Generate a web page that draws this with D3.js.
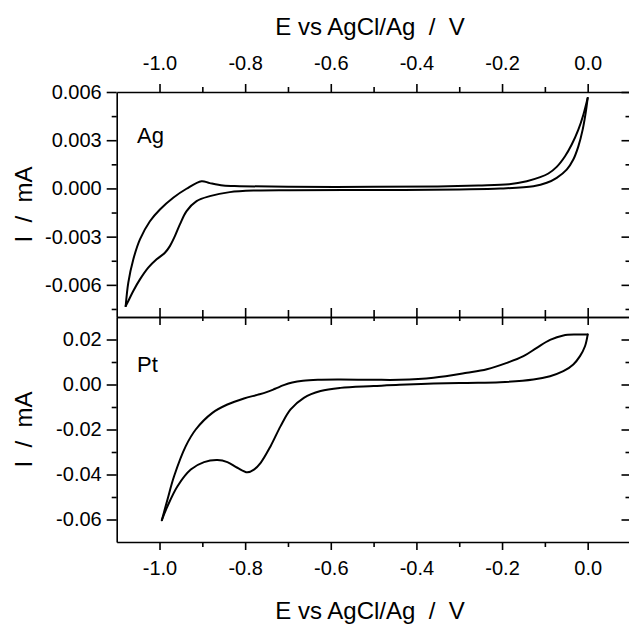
<!DOCTYPE html>
<html>
<head>
<meta charset="utf-8">
<script src="https://cdn.jsdelivr.net/npm/d3@7/dist/d3.min.js"></script>
<style>
  html, body { margin: 0; padding: 0; background: #fff; }
  svg { display: block; }
  text { font-family: "Liberation Sans", Arial, Helvetica, sans-serif; fill: #000; }
</style>
</head>
<body>
<svg id="chart" width="629" height="627"></svg>
<script>
// Cyclic voltammograms on Ag and Pt electrodes: potential (V vs AgCl/Ag) and current (mA)

// Potential axis ticks
const potentialMajor = [-1.0, -0.8, -0.6, -0.4, -0.2, 0.0];
const potentialMinor = [-0.9, -0.7, -0.5, -0.3, -0.1];

// Current axis ticks
const agCurrentMajor = [-0.006, -0.003, 0.000, 0.003, 0.006];
const agCurrentMinor = [-0.0075, -0.0045, -0.0015, 0.0015, 0.0045];
const ptCurrentMajor = [-0.06, -0.04, -0.02, 0.00, 0.02];
const ptCurrentMinor = [-0.05, -0.03, -0.01, 0.01];

// Ag electrode: sweep running along the upper edge of the loop  [E, I]
const agUpperSweep = [
  [-1.079, -0.00732], [-1.0729, -0.00586], [-1.0613, -0.00442], [-1.0457, -0.00317],
  [-1.0224, -0.00204], [-0.999, -0.00131], [-0.968, -0.00058], [-0.937, -0.00002],
  [-0.902, 0.00045], [-0.8825, 0.00033], [-0.8515, 0.00018], [-0.8126, 0.00014],
  [-0.696, 0.00010], [-0.5, 0.00010], [-0.35, 0.00012], [-0.2555, 0.00018],
  [-0.1833, 0.00026], [-0.1422, 0.00045], [-0.111, 0.00070], [-0.0918, 0.00093],
  [-0.0723, 0.00134], [-0.0529, 0.00200], [-0.0373, 0.00273], [-0.0218, 0.00366],
  [-0.0101, 0.00459], [0.0, 0.00563]
];
// Ag electrode: sweep running along the lower edge of the loop  [E, I]
const agLowerSweep = [
  [-1.079, -0.00732], [-1.0729, -0.00700], [-1.0613, -0.00638], [-1.0457, -0.00566],
  [-1.0263, -0.00493], [-1.0068, -0.00441], [-0.9874, -0.00400], [-0.9758, -0.00359],
  [-0.9641, -0.00297], [-0.9524, -0.00224], [-0.9368, -0.00141], [-0.9135, -0.00079],
  [-0.8825, -0.00048], [-0.8359, -0.00023], [-0.7737, -0.00013], [-0.696, -0.00011],
  [-0.5, -0.00010], [-0.3, -0.00006], [-0.2044, -0.00001], [-0.1268, 0.00014],
  [-0.0956, 0.00035], [-0.0723, 0.00066], [-0.049, 0.00117], [-0.0336, 0.00180],
  [-0.0218, 0.00262], [-0.0117, 0.00366], [-0.0047, 0.00470], [0.0, 0.00563]
];

// Pt electrode: upper edge of the loop  [E, I]
const ptUpperSweep = [
  [-0.9946, -0.0603], [-0.9814, -0.0511], [-0.966, -0.0408], [-0.9387, -0.0274],
  [-0.9154, -0.0200], [-0.8765, -0.0126], [-0.8415, -0.0089], [-0.8028, -0.0062],
  [-0.7716, -0.0046], [-0.75, -0.0034], [-0.73, -0.0019], [-0.71, -0.0003],
  [-0.69, 0.0009], [-0.665, 0.0017], [-0.63, 0.0021], [-0.5774, 0.0022],
  [-0.5, 0.0021], [-0.4396, 0.0021], [-0.36, 0.0030], [-0.282, 0.0052],
  [-0.2354, 0.0068], [-0.1888, 0.0096], [-0.15, 0.0126], [-0.1189, 0.0163],
  [-0.0879, 0.0198], [-0.0569, 0.0218], [-0.0256, 0.0222], [0.0, 0.0222]
];
// Pt electrode: lower edge of the loop  [E, I]
const ptLowerSweep = [
  [-0.9946, -0.0603], [-0.9814, -0.0541], [-0.958, -0.0452], [-0.927, -0.0378],
  [-0.896, -0.0345], [-0.8648, -0.0336], [-0.8415, -0.0345], [-0.8182, -0.0370],
  [-0.7949, -0.0390], [-0.7794, -0.0378], [-0.7638, -0.0348], [-0.7406, -0.0274],
  [-0.7172, -0.0185], [-0.6939, -0.0111], [-0.6629, -0.0059], [-0.6239, -0.0029],
  [-0.5774, -0.0015], [-0.5, -0.0007], [-0.4396, -0.0001], [-0.36, 0.0004],
  [-0.282, 0.0007], [-0.2044, 0.0010], [-0.1268, 0.0022], [-0.0879, 0.0037],
  [-0.0569, 0.0059], [-0.0336, 0.0089], [-0.018, 0.0126], [-0.0063, 0.0170],
  [0.0, 0.0222]
];

const svg = d3.select("#chart");

const left = 116.7, right = 630.5;
const agTop = 92, mid = 317, ptBottom = 542;

const x = d3.scaleLinear().domain([-1.1, 0.1]).range([left, right]);
const yAg = d3.scaleLinear().domain([-0.008, 0.006]).range([mid, agTop]);
const yPt = d3.scaleLinear().domain([-0.07, 0.03]).range([ptBottom, mid]);

const fmt = digits => v => (Math.abs(v) < 1e-12 ? 0 : v).toFixed(digits);

const TICK_FONT = 20;
const LINE_W = 1.6;

// Draws one side of a panel: a labelled set of major ticks plus unlabelled minor ticks
function drawAxis(opts) {
  const g = svg.append("g").attr("transform", opts.transform);
  const major = opts.gen(opts.scale)
    .tickValues(opts.major)
    .tickSize(opts.majorSize)
    .tickSizeOuter(0)
    .tickPadding(opts.padding || 4)
    .tickFormat(opts.format || (() => ""));
  g.append("g").call(major);
  if (opts.minor) {
    const minor = opts.gen(opts.scale)
      .tickValues(opts.minor)
      .tickSize(opts.minorSize)
      .tickSizeOuter(0)
      .tickFormat(() => "");
    const mg = g.append("g").call(minor);
    mg.select(".domain").remove();
  }
  g.selectAll("path.domain").attr("stroke", "#000").attr("stroke-width", LINE_W);
  g.selectAll(".tick line").attr("stroke", "#000").attr("stroke-width", LINE_W);
  g.selectAll("g").attr("font-family", null).attr("font-size", null);
  g.selectAll(".tick text").attr("font-size", TICK_FONT).attr("fill", "#000");
  return g;
}

// ---- Ag panel ----
drawAxis({ gen: d3.axisTop, scale: x, transform: `translate(0,${agTop})`,
  major: potentialMajor, minor: potentialMinor, majorSize: 8, minorSize: 5,
  padding: 14, format: fmt(1) });
drawAxis({ gen: d3.axisBottom, scale: x, transform: `translate(0,${mid})`,
  major: potentialMajor, minor: potentialMinor, majorSize: -9, minorSize: -7 });
drawAxis({ gen: d3.axisLeft, scale: yAg, transform: `translate(${left},0)`,
  major: agCurrentMajor, minor: agCurrentMinor, majorSize: 10, minorSize: 5,
  padding: 5, format: fmt(3) });
drawAxis({ gen: d3.axisRight, scale: yAg, transform: `translate(${right},0)`,
  major: agCurrentMajor, minor: agCurrentMinor, majorSize: -9, minorSize: -5 });

// ---- Pt panel ----
drawAxis({ gen: d3.axisTop, scale: x, transform: `translate(0,${mid})`,
  major: potentialMajor, minor: potentialMinor, majorSize: -8, minorSize: -4 });
drawAxis({ gen: d3.axisBottom, scale: x, transform: `translate(0,${ptBottom})`,
  major: potentialMajor, minor: potentialMinor, majorSize: 8, minorSize: 5,
  padding: 11, format: fmt(1) });
drawAxis({ gen: d3.axisLeft, scale: yPt, transform: `translate(${left},0)`,
  major: ptCurrentMajor, minor: ptCurrentMinor, majorSize: 10, minorSize: 5,
  padding: 5, format: fmt(2) });
drawAxis({ gen: d3.axisRight, scale: yPt, transform: `translate(${right},0)`,
  major: ptCurrentMajor, minor: ptCurrentMinor, majorSize: -9, minorSize: -5 });

// ---- Voltammogram traces ----
const lineAg = d3.line().x(d => x(d[0])).y(d => yAg(d[1])).curve(d3.curveCatmullRom.alpha(0.5));
const linePt = d3.line().x(d => x(d[0])).y(d => yPt(d[1])).curve(d3.curveCatmullRom.alpha(0.5));

const traces = svg.append("g")
  .attr("fill", "none").attr("stroke", "#000").attr("stroke-width", 2)
  .attr("stroke-linejoin", "round").attr("stroke-linecap", "round");
traces.append("path").attr("d", lineAg(agUpperSweep));
traces.append("path").attr("d", lineAg(agLowerSweep));
traces.append("path").attr("d", linePt(ptUpperSweep));
traces.append("path").attr("d", linePt(ptLowerSweep));

// ---- Labels ----
svg.append("text").attr("x", 137).attr("y", 143).attr("font-size", 22).text("Ag");
svg.append("text").attr("x", 137).attr("y", 372).attr("font-size", 22).text("Pt");

const titleStyle = "white-space:pre";
svg.append("text").attr("x", 370).attr("y", 35).attr("text-anchor", "middle")
  .attr("font-size", 24).attr("style", titleStyle).text("E vs AgCl/Ag  /  V");
svg.append("text").attr("x", 370).attr("y", 619).attr("text-anchor", "middle")
  .attr("font-size", 24).attr("style", titleStyle).text("E vs AgCl/Ag  /  V");

svg.append("text").attr("transform", `translate(32,${(agTop + mid) / 2}) rotate(-90)`)
  .attr("text-anchor", "middle").attr("font-size", 24).attr("style", titleStyle)
  .text("I  /  mA");
svg.append("text").attr("transform", `translate(32,${(mid + ptBottom) / 2}) rotate(-90)`)
  .attr("text-anchor", "middle").attr("font-size", 24).attr("style", titleStyle)
  .text("I  /  mA");
</script>
</body>
</html>
